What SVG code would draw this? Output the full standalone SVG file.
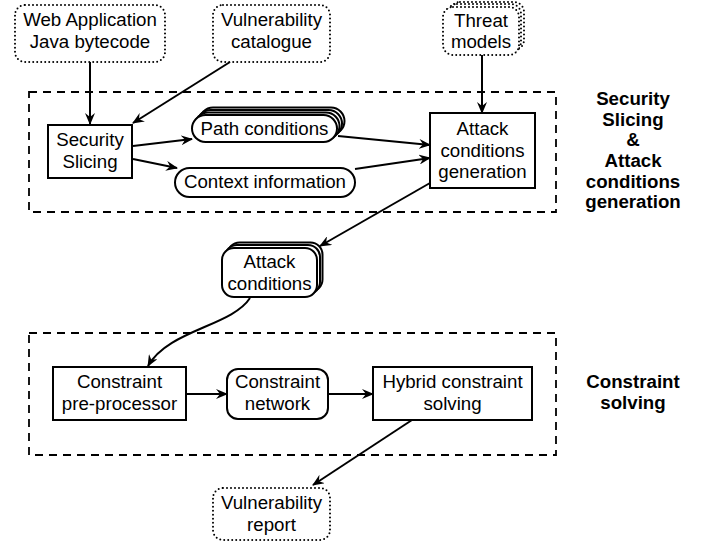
<svg xmlns="http://www.w3.org/2000/svg" width="709" height="544" viewBox="0 0 709 544">
<defs>
<marker id="ah" viewBox="0 0 12 10" refX="11" refY="5" markerWidth="12" markerHeight="10" markerUnits="userSpaceOnUse" orient="auto">
<path d="M0,0 L12,5 L0,10 L4,5 Z" fill="#000"/>
</marker>
<style>
text{font-family:"Liberation Sans",Arial,sans-serif;font-size:18.7px;text-anchor:middle;fill:#000}
.b{font-weight:bold}
.box{fill:#fff;stroke:#000;stroke-width:2}
.dot{fill:#fff;stroke:#000;stroke-width:2;stroke-dasharray:0 4;stroke-linecap:round}
.grp{fill:none;stroke:#000;stroke-width:1.8;stroke-dasharray:8 6}
.c{fill:none;stroke:#000;stroke-width:2;marker-end:url(#ah)}
</style>
</defs>
<rect width="709" height="544" fill="#fff"/>
<g id="groups">
<rect class="grp" x="29" y="92" width="527" height="120"/>
<rect class="grp" x="29" y="333" width="527" height="122"/>
</g>
<g id="connectors">
<line class="c" x1="90" y1="62" x2="90" y2="124"/>
<line class="c" x1="230" y1="62" x2="133" y2="123"/>
<line class="c" x1="482" y1="55" x2="482" y2="113"/>
<line class="c" x1="133" y1="146" x2="192" y2="139"/>
<line class="c" x1="133" y1="159" x2="177" y2="168"/>
<line class="c" x1="338" y1="136" x2="430" y2="145"/>
<line class="c" x1="355" y1="169" x2="430" y2="158"/>
<line class="c" x1="430" y1="183" x2="320" y2="246"/>
<path class="c" d="M250,298 C232,326 168,330 148,366"/>
<line class="c" x1="186" y1="394" x2="227" y2="394"/>
<line class="c" x1="328" y1="394" x2="373" y2="394"/>
<line class="c" x1="412" y1="420" x2="313" y2="485"/>
</g>
<g id="web-app">
<rect class="dot" x="15" y="5" width="150" height="57" rx="10"/>
<text x="90" y="26">Web Application</text>
<text x="90" y="48">Java bytecode</text>
</g>
<g id="vuln-catalogue">
<rect class="dot" x="213" y="5" width="117" height="57" rx="10"/>
<text x="271.5" y="26">Vulnerability</text>
<text x="271.5" y="48">catalogue</text>
</g>
<g id="threat-models">
<rect class="dot" x="450" y="2" width="74" height="48" rx="10"/>
<rect class="dot" x="447" y="4" width="74" height="48" rx="10"/>
<rect class="dot" x="443" y="7" width="76" height="48" rx="10"/>
<text x="481" y="27">Threat</text>
<text x="481" y="48">models</text>
</g>
<g id="security-slicing">
<rect class="box" x="48" y="125" width="84" height="53"/>
<text x="90" y="146">Security</text>
<text x="90" y="168">Slicing</text>
</g>
<g id="path-conditions">
<rect class="box" x="199.5" y="107.5" width="145" height="27" rx="13.5"/>
<rect class="box" x="197" y="110" width="145" height="27" rx="13.5"/>
<rect class="box" x="194.5" y="112.5" width="145" height="27" rx="13.5"/>
<rect class="box" x="192" y="115" width="145" height="27" rx="13.5"/>
<text x="264.5" y="135">Path conditions</text>
</g>
<g id="context-information">
<rect class="box" x="175" y="168" width="180" height="29" rx="14.5"/>
<text x="265" y="188">Context information</text>
</g>
<g id="attack-gen">
<rect class="box" x="430" y="113" width="105" height="75"/>
<text x="482.5" y="135">Attack</text>
<text x="482.5" y="156.5">conditions</text>
<text x="482.5" y="178">generation</text>
</g>
<g id="attack-conditions">
<rect class="box" x="227.5" y="242.5" width="95" height="49" rx="12"/>
<rect class="box" x="225" y="245" width="95" height="49" rx="12"/>
<rect class="box" x="222" y="248" width="95" height="49" rx="12"/>
<text x="269.5" y="268">Attack</text>
<text x="269.5" y="290">conditions</text>
</g>
<g id="constraint-preprocessor">
<rect class="box" x="53" y="367" width="133" height="53"/>
<text x="119.5" y="388">Constraint</text>
<text x="119.5" y="410">pre-processor</text>
</g>
<g id="constraint-network">
<rect class="box" x="227" y="369" width="101" height="50" rx="11"/>
<text x="277.5" y="388">Constraint</text>
<text x="277.5" y="410">network</text>
</g>
<g id="hybrid-solving">
<rect class="box" x="373" y="367" width="159" height="53"/>
<text x="452.5" y="388">Hybrid constraint</text>
<text x="452.5" y="410">solving</text>
</g>
<g id="vuln-report">
<rect class="dot" x="213" y="488" width="117" height="52" rx="10"/>
<text x="271.5" y="509">Vulnerability</text>
<text x="271.5" y="531">report</text>
</g>
<g id="labels">
<text class="b" x="633" y="105">Security</text>
<text class="b" x="633" y="125.7">Slicing</text>
<text class="b" x="633" y="146.3">&amp;</text>
<text class="b" x="633" y="167">Attack</text>
<text class="b" x="633" y="187.7">conditions</text>
<text class="b" x="633" y="208.3">generation</text>
<text class="b" x="633" y="388">Constraint</text>
<text class="b" x="633" y="409">solving</text>
</g>
</svg>
